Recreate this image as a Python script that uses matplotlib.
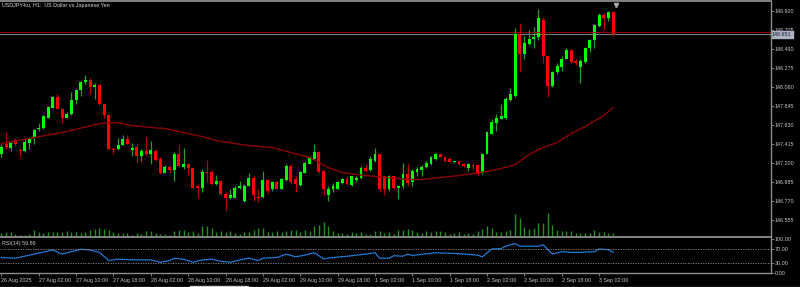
import matplotlib
matplotlib.use("Agg")
import matplotlib.pyplot as plt
import matplotlib.transforms as mtransforms
from matplotlib.lines import Line2D
from matplotlib.patches import Rectangle

# USDJPY H1 candles
opens = [
    147.302, 147.415, 147.370, 147.460, 147.347, 147.336, 147.426, 147.483, 147.585, 147.596,
    147.709, 147.822, 147.947, 147.811, 147.709, 147.754, 147.913, 148.026, 148.117, 148.139,
    148.060, 148.083, 147.868, 147.743, 147.358, 147.358, 147.404, 147.471, 147.347, 147.381,
    147.279, 147.336, 147.291, 147.336, 147.245, 147.087, 147.155, 147.121, 147.302, 147.155,
    147.189, 147.143, 146.929, 146.917, 147.098, 147.098, 146.962, 146.996, 146.849, 146.804,
    146.804, 146.917, 146.770, 146.940, 147.030, 146.815, 146.815, 147.008, 146.895, 146.985,
    146.906, 147.008, 147.166, 147.019, 146.951, 147.087, 147.189, 147.245, 147.324, 147.109,
    146.827, 146.895, 146.906, 146.974, 147.019, 146.951, 147.008, 147.030, 147.143, 147.121,
    147.223, 147.291, 147.042, 146.895, 147.042, 146.917, 146.929, 147.075, 146.985, 147.098,
    147.121, 147.155, 147.189, 147.245, 147.291, 147.268, 147.245, 147.211, 147.223, 147.189,
    147.143, 147.177, 147.177, 147.087, 147.302, 147.528, 147.652, 147.698, 147.709, 147.913,
    147.958, 148.660, 148.433, 148.547, 148.603, 148.615, 148.818, 148.411, 148.071, 148.219,
    148.286, 148.377, 148.479, 148.354, 148.286, 148.343, 148.501, 148.581, 148.750, 148.864,
    148.841, 148.909,
]
highs = [
    147.415, 147.551, 147.449, 147.483, 147.370, 147.483, 147.494, 147.585, 147.652, 147.743,
    147.845, 147.958, 147.970, 147.822, 147.777, 148.003, 148.037, 148.128, 148.185, 148.151,
    148.105, 148.094, 147.879, 147.754, 147.381, 147.483, 147.506, 147.506, 147.426, 147.426,
    147.358, 147.494, 147.449, 147.358, 147.257, 147.177, 147.166, 147.324, 147.415, 147.370,
    147.200, 147.155, 146.962, 147.132, 147.234, 147.121, 147.064, 147.008, 146.861, 146.895,
    146.929, 146.996, 146.962, 147.087, 147.042, 146.906, 147.109, 147.019, 146.996, 146.996,
    147.030, 147.189, 147.189, 147.042, 147.109, 147.223, 147.279, 147.415, 147.336, 147.121,
    146.929, 146.974, 146.996, 147.030, 147.042, 147.053, 147.053, 147.166, 147.189, 147.279,
    147.370, 147.302, 147.053, 147.064, 147.053, 146.951, 147.200, 147.200, 147.132, 147.155,
    147.177, 147.223, 147.279, 147.313, 147.302, 147.279, 147.257, 147.223, 147.234, 147.200,
    147.200, 147.200, 147.189, 147.313, 147.562, 147.698, 147.754, 147.868, 147.936, 148.049,
    148.728, 148.784, 148.637, 148.705, 148.739, 148.943, 148.852, 148.422, 148.241, 148.332,
    148.400, 148.501, 148.490, 148.366, 148.366, 148.512, 148.603, 148.773, 148.897, 148.897,
    148.920, 148.920,
]
lows = [
    147.268, 147.358, 147.336, 147.392, 147.279, 147.324, 147.358, 147.415, 147.562, 147.585,
    147.709, 147.822, 147.811, 147.652, 147.709, 147.743, 147.868, 147.958, 148.094, 147.981,
    147.924, 147.856, 147.709, 147.347, 147.291, 147.347, 147.404, 147.415, 147.279, 147.200,
    147.223, 147.279, 147.189, 147.223, 147.075, 147.087, 147.087, 146.996, 147.155, 147.132,
    147.064, 146.906, 146.804, 146.861, 146.985, 146.951, 146.951, 146.838, 146.657, 146.793,
    146.804, 146.895, 146.759, 146.929, 146.770, 146.759, 146.804, 146.849, 146.883, 146.895,
    146.895, 146.996, 146.962, 146.861, 146.940, 147.087, 147.189, 147.234, 147.087, 146.827,
    146.770, 146.872, 146.895, 146.962, 146.951, 146.940, 146.985, 147.019, 147.098, 147.109,
    147.211, 146.861, 146.838, 146.883, 146.906, 146.793, 146.917, 146.940, 146.940, 147.053,
    147.053, 147.143, 147.177, 147.234, 147.257, 147.211, 147.211, 147.200, 147.177, 147.155,
    147.109, 147.132, 147.064, 147.075, 147.302, 147.528, 147.562, 147.687, 147.698, 147.902,
    147.947, 148.219, 148.377, 148.535, 148.501, 148.581, 148.332, 147.936, 148.060, 148.207,
    148.241, 148.366, 148.332, 148.309, 148.105, 148.332, 148.456, 148.501, 148.739, 148.705,
    148.807, 148.637,
]
closes = [
    147.381, 147.381, 147.426, 147.415, 147.336, 147.438, 147.471, 147.573, 147.596, 147.732,
    147.834, 147.947, 147.811, 147.709, 147.754, 147.913, 148.026, 148.117, 148.139, 148.060,
    148.083, 147.868, 147.743, 147.358, 147.347, 147.404, 147.471, 147.415, 147.370, 147.279,
    147.336, 147.302, 147.347, 147.234, 147.087, 147.155, 147.121, 147.302, 147.166, 147.189,
    147.143, 146.917, 146.917, 147.098, 147.087, 146.962, 146.996, 146.849, 146.804, 146.827,
    146.917, 146.929, 146.940, 147.030, 146.827, 146.804, 147.008, 146.883, 146.985, 146.906,
    147.019, 147.166, 146.985, 146.962, 147.098, 147.200, 147.257, 147.324, 147.098, 146.906,
    146.906, 146.929, 146.985, 147.019, 146.962, 147.042, 147.030, 147.143, 147.109, 147.245,
    147.291, 146.895, 146.895, 147.053, 146.917, 146.940, 147.075, 146.974, 147.109, 147.132,
    147.155, 147.200, 147.257, 147.302, 147.268, 147.223, 147.211, 147.223, 147.189, 147.166,
    147.189, 147.166, 147.075, 147.302, 147.540, 147.664, 147.709, 147.732, 147.924, 147.970,
    148.660, 148.433, 148.558, 148.603, 148.615, 148.830, 148.411, 148.071, 148.230, 148.298,
    148.377, 148.479, 148.343, 148.332, 148.354, 148.501, 148.581, 148.762, 148.864, 148.841,
    148.909, 148.651,
]
volumes = [
    360, 560, 480, 280, 160, 160, 280, 800, 560, 400,
    480, 480, 560, 560, 680, 560, 560, 400, 560, 800,
    880, 960, 880, 800, 560, 400, 400, 400, 200, 400,
    320, 680, 600, 400, 280, 320, 200, 600, 720, 720,
    480, 600, 400, 1200, 1200, 1000, 480, 600, 480, 600,
    400, 320, 560, 480, 800, 1000, 1000, 480, 480, 600,
    480, 600, 720, 720, 480, 720, 600, 1280, 1400, 1720,
    1200, 600, 400, 400, 320, 480, 400, 480, 320, 260,
    600, 680, 400, 480, 320, 720, 800, 880, 720, 480,
    400, 680, 480, 600, 600, 480, 320, 400, 480, 320,
    400, 320, 600, 880, 1200, 1000, 560, 480, 600, 800,
    2720, 2200, 1120, 880, 1000, 1600, 1600, 2800, 1400, 800,
    600, 600, 600, 400, 400, 400, 400, 720, 480, 480,
    400, 400,
]

# moving average, sampled along the dark red curve
ma_idx = [0, 7, 14, 21, 23, 25, 28, 32, 35, 39, 43, 46, 50, 53, 58, 66, 70, 73, 76, 80,
          83, 87, 90, 94, 98, 101, 104, 107, 110, 113, 116, 119, 122, 125, 129, 131]
ma_val = [147.415, 147.483, 147.551, 147.641, 147.652, 147.649, 147.619, 147.596, 147.585,
          147.540, 147.494, 147.449, 147.415, 147.392, 147.370, 147.257, 147.143, 147.087,
          147.064, 147.042, 147.030, 147.008, 147.008, 147.030, 147.053, 147.075, 147.098,
          147.132, 147.177, 147.291, 147.370, 147.426, 147.528, 147.607, 147.732, 147.822]

# RSI(14) sampled
rsi_idx = [0, 3, 4, 7, 11, 13, 17, 19, 21, 23, 25, 29, 32, 34, 36, 37, 39, 41, 43, 45,
           47, 49, 51, 53, 55, 56, 59, 61, 63, 65, 67, 69, 71, 75, 78, 80, 81, 83, 84, 86,
           87, 88, 93, 97, 102, 103, 105, 107, 108, 110, 111, 115, 116, 118, 120, 122, 124,
           127, 128, 130, 131]
rsi_val = [45, 43, 46, 55, 67, 55, 69, 67, 60, 36, 40, 38, 38, 31, 36, 43, 40, 31, 38, 40,
           34, 31, 38, 43, 36, 43, 45, 55, 47, 52, 59, 41, 45, 50, 55, 59, 43, 43, 50, 49,
           55, 51, 59, 57, 52, 47, 70, 71, 78, 86, 78, 78, 82, 55, 62, 60, 60,
           62, 70, 68, 60]

price_ticks = [148.920, 148.705, 148.490, 148.275, 148.060, 147.845, 147.630, 147.415,
               147.200, 146.985, 146.770, 146.555]
rsi_ticks = [100, 70, 30, 0]
time_tick_idx = [0, 8, 16, 24, 32, 40, 48, 56, 64, 72, 80, 88, 96, 104, 112, 120, 128]
time_labels = ["26 Aug 2025", "27 Aug 02:00", "27 Aug 10:00", "27 Aug 18:00", "28 Aug 02:00",
               "28 Aug 10:00", "28 Aug 18:00", "29 Aug 02:00", "29 Aug 10:00", "29 Aug 18:00",
               "1 Sep 02:00", "1 Sep 10:00", "1 Sep 18:00", "2 Sep 02:00", "2 Sep 10:00",
               "2 Sep 18:00", "3 Sep 02:00"]
bid = 148.651
ask = 148.682
rsi_last = 59.86

W, H = 800, 287
GREY = "#8c8c8c"
TXT = "#c8c8c8"
FS = 3.9
plt.rcParams["font.family"] = ["Liberation Sans", "DejaVu Sans"]


def px_box(x0, y0, x1, y1):
    return [x0 / W, 1 - y1 / H, (x1 - x0) / W, (y1 - y0) / H]


def fig_line(xs, ys, color=GREY, lw=1.0):
    fig.add_artist(Line2D([x / W for x in xs], [1 - y / H for y in ys],
                          transform=fig.transFigure, color=color, lw=lw))


fig = plt.figure(figsize=(W / 100, H / 100), dpi=100, facecolor="black")
vol_ax = fig.add_axes(px_box(0, 2.5, 770.5, 236.5))
ax = fig.add_axes(px_box(0, 2.5, 770.5, 236.5), sharex=vol_ax)
rsi_ax = fig.add_axes(px_box(0, 238.7, 770.5, 272.9), sharex=vol_ax)

vol_ax.set_facecolor("black")
ax.set_facecolor("none")
rsi_ax.set_facecolor("black")
for a in (vol_ax, ax, rsi_ax):
    for s in a.spines.values():
        s.set_visible(False)

xs = list(range(len(closes)))
vol_ax.set_xlim(-0.3, 164.7)

# volumes
vol_ax.vlines(xs, 0, volumes, colors="#1f8f1f", linewidth=1.0)
vol_ax.set_ylim(0, 28000)
vol_ax.set_yticks([])
vol_ax.tick_params(axis="x", bottom=False, labelbottom=False)

# candles
up = [c >= o for o, c in zip(opens, closes)]
body_bottom = [min(o, c) for o, c in zip(opens, closes)]
body_h = [max(abs(c - o), 0.007) for o, c in zip(opens, closes)]
ax.vlines(xs, lows, highs, colors=["#1fa01f" if u else "#b80000" for u in up],
          linewidth=0.9, zorder=2)
ax.bar(xs, body_h, bottom=body_bottom, width=0.62, linewidth=0,
       color=["#00ff00" if u else "#ff0000" for u in up], zorder=3)

ax.plot(ma_idx, ma_val, color="#8b0000", lw=1.0, zorder=4)

ax.axhline(bid, color="#7a7a7a", lw=0.8, zorder=1)
ax.axhline(ask, color="#a80000", lw=0.6, xmax=1.03, clip_on=False, zorder=5)

ax.set_ylim(146.363, 149.011)
ax.yaxis.tick_right()
ax.set_yticks(price_ticks)
ax.set_yticklabels([f"{v:.3f}" for v in price_ticks])
ax.tick_params(axis="y", length=2.2, width=0.6, color=GREY, labelcolor=TXT,
               labelsize=FS, pad=0.8)
ax.tick_params(axis="x", bottom=False, labelbottom=False)

right_tr = mtransforms.blended_transform_factory(ax.transAxes, ax.transData)
ax.text(1.002, bid, f"{bid:.3f}", transform=right_tr, fontsize=FS, color="#1c1c2c",
        va="center", ha="left", zorder=6,
        bbox=dict(boxstyle="square,pad=0.18", fc="#aab2c2", ec="#aab2c2"))

top_tr = mtransforms.blended_transform_factory(ax.transData, ax.transAxes)
ax.plot([131.6], [0.99], marker="v", markersize=3, color="#a8a8a8", transform=top_tr,
        clip_on=False, zorder=6)

# RSI panel
rsi_ax.plot(rsi_idx, rsi_val, color="#1e78d2", lw=0.9)
for lvl in (70, 30):
    rsi_ax.axhline(lvl, color=GREY, lw=0.6, linestyle=(0, (1.5, 1.5)))
rsi_ax.set_ylim(0, 100)
rsi_ax.yaxis.tick_right()
rsi_ax.set_yticks(rsi_ticks)
rsi_ax.set_yticklabels([f"{v:.2f}" for v in rsi_ticks])
rsi_ax.tick_params(axis="y", length=2.2, width=0.6, color=GREY, labelcolor=TXT,
                   labelsize=FS, pad=0.8)
rsi_ax.set_xticks(time_tick_idx)
rsi_ax.set_xticklabels(time_labels, ha="left")
rsi_ax.tick_params(axis="x", length=2.5, width=0.6, color=GREY, labelcolor=TXT,
                   labelsize=FS, pad=1.5, direction="out")
rsi_ax.text(0.003, 0.87, f"RSI(14) {rsi_last:.2f}", transform=rsi_ax.transAxes,
            fontsize=FS, color=TXT, va="center", ha="left")

fig.text(2 / W, 1 - 5.5 / H, "USDJPY-ku, H1:  US Dollar vs Japanese Yen", fontsize=FS,
         color="#d8d8d8", va="center", ha="left")

# window borders
fig_line([0, 770.5], [1.2, 1.2], lw=1.3)
fig_line([0, 770.5], [237.3, 237.3], lw=1.3)
fig_line([0, 770.5], [273.3, 273.3], lw=1.0)
fig_line([770.5, 770.5], [1.2, 273.3], lw=1.0)
fig_line([0, 800], [286.5, 286.5], color="#6a6a6a", lw=1.0)
fig.add_artist(Rectangle((190 / W, 0), 58 / W, 1.2 / H, transform=fig.transFigure,
                         color="#e8e8e8"))

fig.savefig("out.png", dpi=100, facecolor="black")
